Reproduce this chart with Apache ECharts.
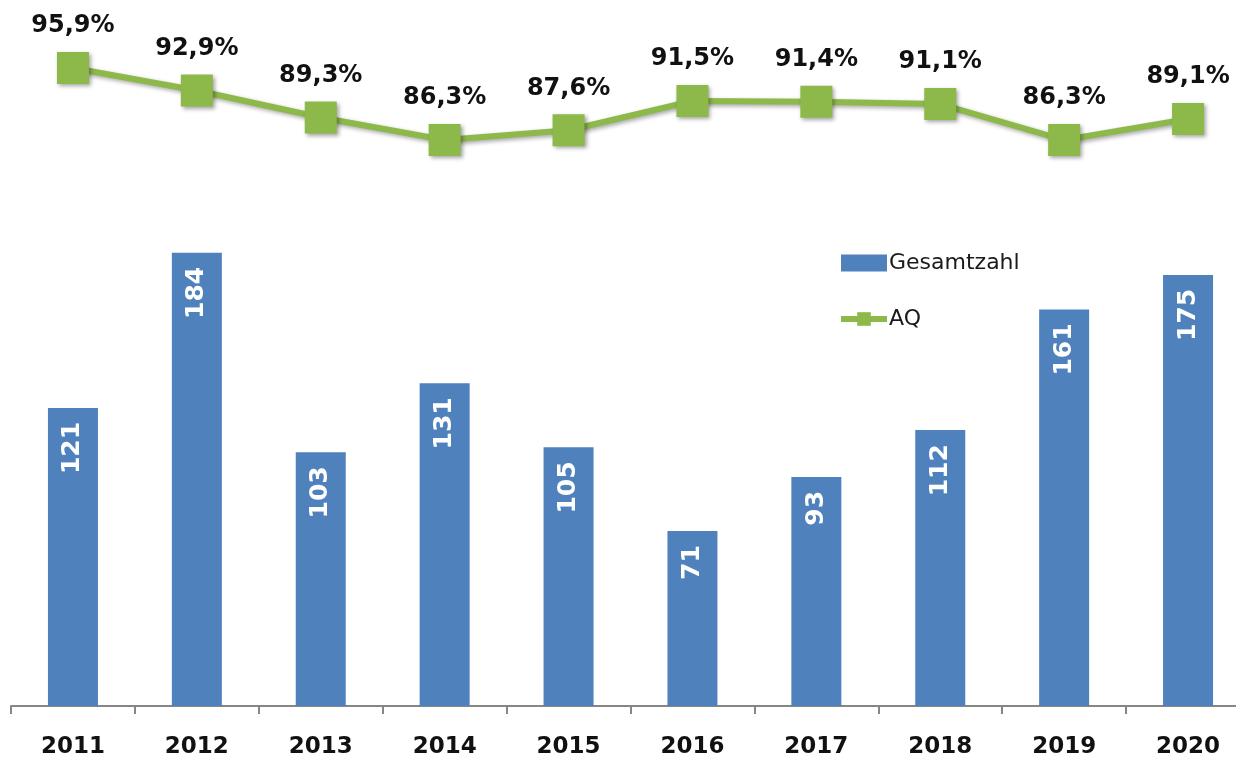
<!DOCTYPE html>
<html>
<head>
<meta charset="utf-8">
<script src="https://cdn.jsdelivr.net/npm/echarts@6/dist/echarts.min.js"></script>
<style>
html,body{margin:0;padding:0;background:#fff;overflow:hidden;}
#chart{width:1250px;height:766px;}
</style>
</head>
<body>
<div id="chart"></div>
<script>
const years = ['2011','2012','2013','2014','2015','2016','2017','2018','2019','2020'];
const gesamtzahl = [121, 184, 103, 131, 105, 71, 93, 112, 161, 175];
const aq = [95.9, 92.9, 89.3, 86.3, 87.6, 91.5, 91.4, 91.1, 86.3, 89.1];

const chart = echarts.init(document.getElementById('chart'));
const fontBase = 'DejaVu Sans';

const option = {
  animation: false,
  backgroundColor: '#fff',
  legend: {
    orient: 'vertical',
    left: 838,
    top: 252,
    padding: 0,
    itemGap: 34,
    itemWidth: 46,
    itemHeight: 17,
    lineStyle: { width: 6, shadowBlur: 0, shadowOffsetX: 0, shadowOffsetY: 0 },
    textStyle: { fontFamily: fontBase, fontSize: 22, color: '#1a1a1a', padding: [0, 0, 0, -3] },
    data: [{ name: 'Gesamtzahl', icon: 'rect' }, { name: 'AQ' }]
  },
  grid: { left: 11, top: 0, right: 0, bottom: 60, containLabel: false },
  xAxis: {
    type: 'category',
    data: years,
    axisLine: { lineStyle: { color: '#868686', width: 2 } },
    axisTick: { show: true, length: 8, lineStyle: { color: '#868686', width: 2 } },
    axisLabel: { margin: 30, fontFamily: fontBase, fontWeight: 'bold', fontSize: 23, color: '#111' }
  },
  yAxis: [
    { type: 'value', min: 0, max: 286.6, show: false, splitLine: { show: false } },
    { type: 'value', min: 10.83, max: 104.97, show: false, splitLine: { show: false } }
  ],
  series: [
    {
      name: 'Gesamtzahl',
      type: 'bar',
      data: gesamtzahl,
      yAxisIndex: 0,
      barWidth: 50,
      itemStyle: { color: '#4F81BD' },
      label: {
        show: true,
        position: 'insideTop',
        rotate: 90,
        align: 'right',
        verticalAlign: 'middle',
        distance: 14,
        color: '#fff',
        fontFamily: fontBase,
        fontWeight: 'bold',
        fontSize: 25
      }
    },
    {
      name: 'AQ',
      type: 'line',
      data: aq,
      yAxisIndex: 1,
      symbol: 'rect',
      symbolSize: 32,
      lineStyle: { color: '#8DB84A', width: 6, shadowColor: 'rgba(0,0,0,0.35)', shadowBlur: 4, shadowOffsetX: 2, shadowOffsetY: 2 },
      itemStyle: { color: '#8DB84A', shadowColor: 'rgba(0,0,0,0.35)', shadowBlur: 4, shadowOffsetX: 2, shadowOffsetY: 2 },
      label: {
        show: true,
        position: 'top',
        distance: 14,
        color: '#111',
        fontFamily: fontBase,
        fontWeight: 'bold',
        fontSize: 24,
        formatter: p => p.value.toFixed(1).replace('.', ',') + '%'
      }
    }
  ]
};
chart.setOption(option);
</script>
</body>
</html>
